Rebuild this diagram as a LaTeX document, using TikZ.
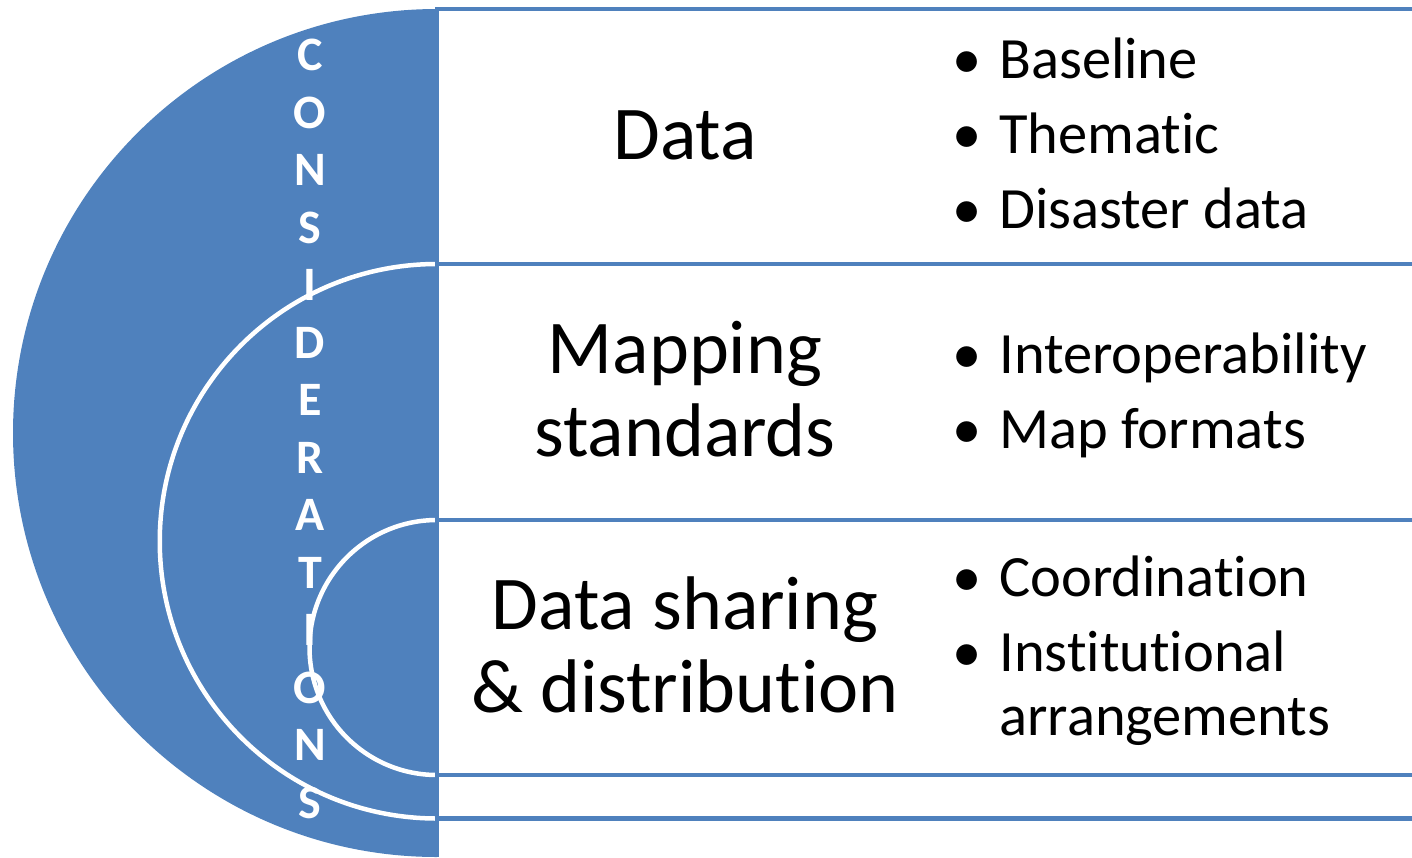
\documentclass[tikz,border=0pt]{standalone}
\usepackage{fontspec}
\setmainfont{Carlito}[Ligatures={NoCommon,NoRare}]
\definecolor{ringblue}{RGB}{79,129,189}
\tikzstyle{ring} = [fill=ringblue, draw=white, line width=4.5pt]
\tikzstyle{rowline} = [draw=ringblue, line width=4.5pt]
\tikzstyle{heading} = [font=\fontsize{76}{83}\selectfont, align=center, inner sep=0pt]
\tikzstyle{bullets} = [font=\fontsize{58.5}{64}\selectfont, anchor=base west, inner sep=0pt]
\tikzstyle{letter} = [text=white, font=\fontsize{48}{48}\selectfont\bfseries, inner sep=0pt]

\begin{document}
\begin{tikzpicture}[x=1pt, y=-1pt]
\useasboundingbox (0,0) rectangle (1412,857);
% nested half rings
\begin{scope}
    \clip (0,0) rectangle (437,857);
    \fill[ringblue] (437,433) circle[radius=424];
    \draw[ring] (437,541.25) circle[radius=277.25];
    \draw[ring] (437,647.5) circle[radius=127.5];
\end{scope}
% rows on the right
\draw[rowline] (437,857) -- (437,9) -- (1420,9);
\draw[rowline] (437,264) -- (1420,264);
\draw[rowline] (437,520) -- (1420,520);
\draw[rowline] (437,775) -- (1420,775);
\draw[rowline] (437,818.5) -- (1420,818.5);
% vertical title
\foreach \ch [count=\i from 0] in {C,O,N,S,I,D,E,R,A,T,I,O,N,S}
    \node[letter] (letter\i) at (310,55+57.5*\i) {\ch};
% headings
\node[heading] (data) at (685,135) {Data};
\node[heading] (mapping) at (685,389) {Mapping\\standards};
\node[heading] (sharing) at (685,645) {Data sharing\\\& distribution};
% bullet lists
\node[bullets] (datalist) at (952,78) {%
    \begin{tabular}[t]{@{}l@{\hspace{18pt}}l@{}}
    \textbullet & Baseline\\[11pt]
    \textbullet & Thematic\\[11pt]
    \textbullet & Disaster data
    \end{tabular}};
\node[bullets] (maplist) at (952,373) {%
    \begin{tabular}[t]{@{}l@{\hspace{18pt}}l@{}}
    \textbullet & Interoperability\\[11pt]
    \textbullet & Map formats
    \end{tabular}};
\node[bullets] (sharelist) at (952,596) {%
    \begin{tabular}[t]{@{}l@{\hspace{18pt}}l@{}}
    \textbullet & Coordination\\[11pt]
    \textbullet & Institutional\\
                & arrangements
    \end{tabular}};
\end{tikzpicture}
\end{document}
